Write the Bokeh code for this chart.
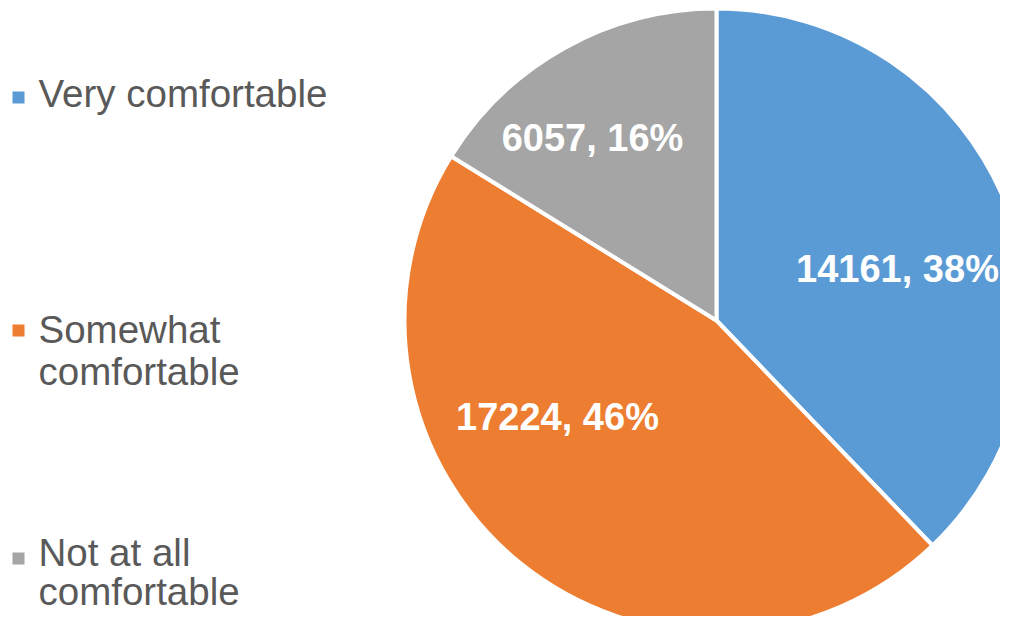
import math
from bokeh.plotting import figure
from bokeh.models import Range1d
from bokeh.core.properties import value
from bokeh.embed import file_html
from bokeh.resources import INLINE

# ---- data ----
categories = ["Very comfortable", "Somewhat comfortable", "Not at all comfortable"]
counts = [14161, 17224, 6057]
legend_lines = [["Very comfortable"], ["Somewhat", "comfortable"], ["Not at all", "comfortable"]]
colors = ["#5B9BD5", "#ED7D31", "#A5A5A5"]

# ---- layout (picture pixel coordinates, origin top-left) ----
W, H = 1000, 616
TEXT_SHIFT = 14   # svg text renders lower than the requested baseline
def Y(sy):
    return H - sy
def TY(sy):
    return H - (sy - TEXT_SHIFT)

cx, cy, r = 716, Y(320), 312
label_pos = [(897, 282), (557, 430), (592, 151)]       # centre x, baseline y
legend_sq = [97, 330, 558]                              # square centre y
legend_base = [[107], [343, 385], [566, 605]]           # text baselines

p = figure(width=W, height=H, output_backend="svg", toolbar_location=None,
           x_range=Range1d(0, W), y_range=Range1d(0, H),
           min_border=0)
p.axis.visible = False
p.grid.visible = False
p.outline_line_color = None
p.background_fill_color = "white"
p.border_fill_color = "white"

total = sum(counts)
start = math.pi / 2
starts, ends = [], []
for c in counts:
    end = start - 2 * math.pi * c / total
    starts.append(start)
    ends.append(end)
    start = end

p.wedge(x=[cx] * 3, y=[cy] * 3, radius=r, start_angle=starts, end_angle=ends,
        direction="clock", fill_color=colors, line_color="white", line_width=4)

labels = [f"{c}, {round(100 * c / total)}%" for c in counts]
p.text(x=[lp[0] for lp in label_pos], y=[TY(lp[1]) for lp in label_pos], text=labels,
       text_font=value("Liberation Sans"), text_font_style="bold",
       text_font_size="38px", text_color="white",
       text_align="center", text_baseline="alphabetic")

# legend
p.rect(x=[18] * 3, y=[Y(s) for s in legend_sq], width=12, height=12,
       fill_color=colors, line_color=None)
lx, ly, lt = [], [], []
for lines, bases in zip(legend_lines, legend_base):
    for t, b in zip(lines, bases):
        lx.append(38)
        ly.append(TY(b))
        lt.append(t)
p.text(x=lx, y=ly, text=lt, text_font=value("Liberation Sans"),
       text_font_size="38.5px", text_color="#595959",
       text_align="left", text_baseline="alphabetic")

open("out.html", "w").write(file_html(p, INLINE))
